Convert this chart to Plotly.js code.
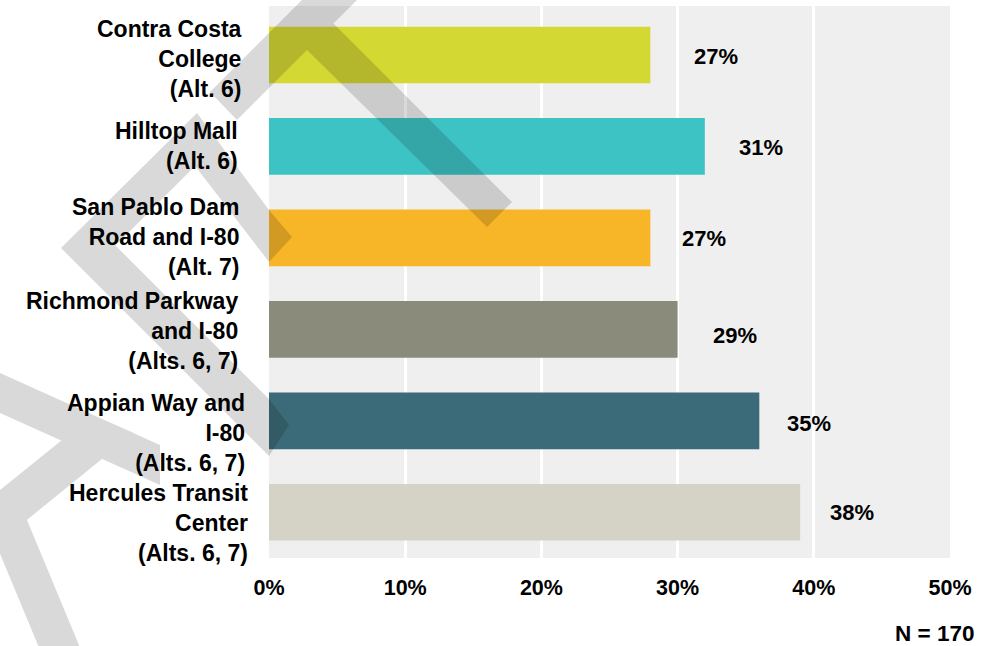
<!DOCTYPE html>
<html>
<head>
<meta charset="utf-8">
<script src="https://cdn.plot.ly/plotly-3.0.1.min.js"></script>
<style>
  html, body { margin: 0; padding: 0; background: #ffffff; }
  #chart { width: 996px; height: 646px; }
</style>
</head>
<body>
<div id="chart"></div>
<script>
// ---- data ----
const categories = [
  "Contra Costa<br>College<br>(Alt. 6)",
  "Hilltop Mall<br>(Alt. 6)",
  "San Pablo Dam<br>Road and I-80<br>(Alt. 7)",
  "Richmond Parkway<br>and I-80<br>(Alts. 6, 7)",
  "Appian Way and<br>I-80<br>(Alts. 6, 7)",
  "Hercules Transit<br>Center<br>(Alts. 6, 7)"
];
const barValues = [28, 32, 28, 30, 36, 39];
const valueLabels = ["27%", "31%", "27%", "29%", "35%", "38%"];
const barColors = ["#D4D833", "#3EC3C5", "#F7B528", "#8B8B7C", "#3B6B78", "#D4D3C6"];
const xTickValues = [0, 10, 20, 30, 40, 50];
const xTickLabels = ["0%", "10%", "20%", "30%", "40%", "50%"];
const sampleNote = "N = 170";

// ---- layout / style ----
const W = 996, H = 646;
const M = { l: 269, r: 46, t: 6, b: 88 };
const FONT = "Liberation Sans, Arial, Helvetica, sans-serif";
const labelShift = [66, 56, 54, 57, 50, 52];
const labelYShift = [-1, -1, -1, -6, -3, 0];
const catXShift = [-25, -29, -28, -29, -22, -19];
const catYShift = [-4, 0, 1, -2, -12, -11];

// watermark polygons (decoration, pixel space)
const watermark = [
  [[210,92],[237,120],[307,50],[487,227],[512,202],[333.5,23.5],[377,-20],[322,-20]],
  [[269,210],[197,113],[61,248],[269,456],[289,425],[269,399],[115.5,245.5],[195.1,165.9],[269,262],[292,237]],
  [[-20,364],[160,445],[160,485],[-20,404]],
  [[93,415],[134,433],[-20,558],[-20,506]],
  [[27,520],[81,650],[40,650],[-14,520]]
];
function toPaperPath(polys) {
  const pw = W - M.l - M.r, ph = H - M.t - M.b;
  let d = "";
  polys.forEach(function (p) {
    let a = 0;
    for (let i = 0; i < p.length; i++) {
      const q = p[(i + 1) % p.length];
      a += p[i][0] * q[1] - q[0] * p[i][1];
    }
    const pts = a < 0 ? p.slice().reverse() : p;
    pts.forEach(function (pt, i) {
      const x = (pt[0] - M.l) / pw;
      const y = (H - M.b - pt[1]) / ph;
      d += (i === 0 ? "M" : "L") + x.toFixed(5) + "," + y.toFixed(5) + " ";
    });
    d += "Z ";
  });
  return d;
}

const trace = {
  type: "bar",
  orientation: "h",
  x: barValues,
  y: categories,
  marker: { color: barColors, line: { width: 0 } },
  hoverinfo: "skip"
};

const boldFont = function (s) {
  return { family: FONT, size: s, color: "#000000", weight: "bold" };
};

const annotations = [];
categories.forEach(function (c, i) {
  // category label, placed at the category on the y axis
  annotations.push({
    xref: "paper", yref: "y", x: 0, y: c,
    text: c, showarrow: false, align: "right",
    xanchor: "right", yanchor: "middle",
    xshift: catXShift[i], yshift: catYShift[i],
    font: boldFont(23)
  });
  // value label
  annotations.push({
    x: barValues[i], y: c, xref: "x", yref: "y",
    text: valueLabels[i], showarrow: false,
    xanchor: "center", yanchor: "middle",
    xshift: labelShift[i], yshift: labelYShift[i],
    font: boldFont(22)
  });
});
annotations.push({
  xref: "paper", yref: "paper",
  x: (976 - M.l) / (W - M.l - M.r), y: (H - M.b - 633) / (H - M.t - M.b),
  xanchor: "right", yanchor: "middle", showarrow: false,
  text: sampleNote,
  font: boldFont(22.5)
});

const layout = {
  width: W, height: H,
  margin: { l: M.l, r: M.r, t: M.t, b: M.b, pad: 0 },
  paper_bgcolor: "#ffffff",
  plot_bgcolor: "#efefef",
  showlegend: false,
  bargap: 0.38,
  font: { family: FONT, color: "#000000" },
  xaxis: {
    range: [0, 50],
    tickvals: xTickValues,
    ticktext: xTickLabels,
    showgrid: true, gridcolor: "#ffffff", gridwidth: 3,
    zeroline: false, showline: false, ticks: "",
    ticklabelstandoff: 14,
    tickfont: boldFont(21.5),
    fixedrange: true
  },
  yaxis: {
    type: "category",
    categoryorder: "array",
    categoryarray: categories,
    autorange: "reversed",
    showticklabels: false,
    showgrid: false, zeroline: false, showline: false, ticks: "",
    fixedrange: true
  },
  annotations: annotations,
  shapes: [{
    type: "path", xref: "paper", yref: "paper", layer: "above",
    path: toPaperPath(watermark),
    fillcolor: "rgba(0,0,0,0.15)", fillrule: "nonzero",
    line: { width: 0 }
  }]
};

Plotly.newPlot("chart", [trace], layout, { staticPlot: true, displayModeBar: false });
</script>
</body>
</html>
